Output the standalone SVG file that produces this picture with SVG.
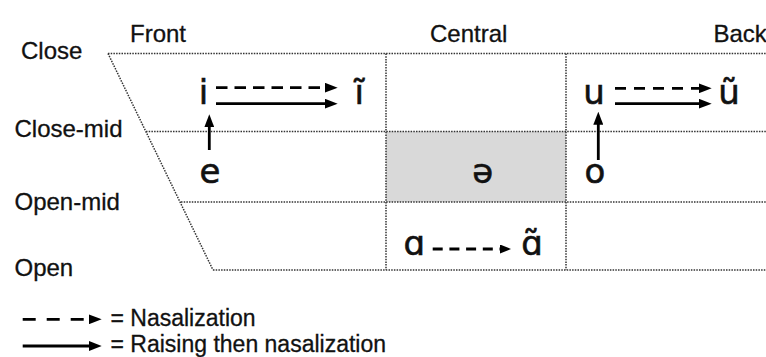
<svg xmlns="http://www.w3.org/2000/svg" width="766" height="357" viewBox="0 0 766 357">
  <style>
    .grid { stroke: #333; stroke-width: 1.5; stroke-dasharray: 1.5 1.2; fill: none; }
    .lbl { font-family: "Liberation Sans", Arial, sans-serif; font-size: 24px; fill: #111; stroke: #111; stroke-width: 0.3; }
    .leg { font-family: "Liberation Sans", Arial, sans-serif; font-size: 23px; fill: #111; stroke: #111; stroke-width: 0.3; }
    .v { font-family: "DejaVu Sans", "Noto Sans", sans-serif; font-size: 34px; fill: #111; stroke: #111; stroke-width: 0.6; text-anchor: middle; }
    .arr { stroke: #000; stroke-width: 2.8; fill: none; }
  </style>
  <defs>
    <marker id="head" markerUnits="userSpaceOnUse" viewBox="0 0 13 10" markerWidth="13" markerHeight="10" refX="4" refY="5" orient="auto">
      <path d="M0,0 L13,5 L0,10 z" fill="#000"/>
    </marker>
    <marker id="headS" markerUnits="userSpaceOnUse" viewBox="0 0 11 9" markerWidth="11" markerHeight="9" refX="3" refY="4.5" orient="auto">
      <path d="M0,0 L11,4.5 L0,9 z" fill="#000"/>
    </marker>
  </defs>
  <rect width="766" height="357" fill="#fff"/>

  <g id="chart">
    <rect x="386" y="131.5" width="180" height="70.5" fill="#d9d9d9"/>
    <line class="grid" x1="108" y1="53.5" x2="766" y2="53.5"/>
    <line class="grid" x1="146" y1="131.5" x2="766" y2="131.5"/>
    <line class="grid" x1="181" y1="202" x2="766" y2="202"/>
    <line class="grid" x1="213" y1="270" x2="766" y2="270"/>
    <line class="grid" x1="108" y1="53.5" x2="213" y2="270"/>
    <line class="grid" x1="386" y1="53.5" x2="386" y2="270"/>
    <line class="grid" x1="566" y1="53.5" x2="566" y2="270"/>
  </g>

  <g id="labels">
    <text class="lbl" x="21" y="59">Close</text>
    <text class="lbl" x="14.5" y="137">Close-mid</text>
    <text class="lbl" x="14.5" y="210">Open-mid</text>
    <text class="lbl" x="14.5" y="276">Open</text>
    <text class="lbl" x="130" y="42">Front</text>
    <text class="lbl" x="430" y="42">Central</text>
    <text class="lbl" x="713.5" y="42">Back</text>
  </g>

  <g id="node-i"><text class="v" x="203.5" y="104">i</text></g>
  <g id="node-i-nasal"><text class="v" x="359.3" y="104">ĩ</text></g>
  <g id="node-e"><text class="v" x="210" y="183">e</text></g>
  <g id="node-u"><text class="v" x="594" y="104">u</text></g>
  <g id="node-u-nasal"><text class="v" x="729" y="104">ũ</text></g>
  <g id="node-o"><text class="v" x="595" y="183">o</text></g>
  <g id="node-schwa"><text class="v" x="482.7" y="183">ə</text></g>
  <g id="node-a"><text class="v" x="414.3" y="255">ɑ</text></g>
  <g id="node-a-nasal"><text class="v" x="532" y="255">ɑ̃</text></g>

  <g id="connectors">
    <line class="arr" x1="216" y1="87.7" x2="328.7" y2="87.7" stroke-dasharray="11.5 7" marker-end="url(#head)"/>
    <line class="arr" x1="216" y1="103.7" x2="328.7" y2="103.7" marker-end="url(#head)"/>
    <line class="arr" x1="615" y1="88.3" x2="702.7" y2="88.3" stroke-dasharray="11 8" marker-end="url(#head)"/>
    <line class="arr" x1="615" y1="103.7" x2="702.7" y2="103.7" marker-end="url(#head)"/>
    <line class="arr" x1="209.3" y1="150" x2="209.3" y2="123.3" marker-end="url(#head)"/>
    <line class="arr" x1="598.3" y1="160" x2="598.3" y2="120.7" marker-end="url(#head)"/>
    <line class="arr" x1="432.7" y1="249" x2="503" y2="249" stroke-dasharray="10 6.7" marker-end="url(#headS)"/>
  </g>

  <g id="legend">
    <line class="arr" x1="22.7" y1="319.3" x2="92.7" y2="319.3" stroke-dasharray="13 11" marker-end="url(#head)"/>
    <line class="arr" x1="22.7" y1="346" x2="92.7" y2="346" marker-end="url(#head)"/>
    <text class="leg" x="110.5" y="326">= Nasalization</text>
    <text class="leg" x="110.5" y="351.5">= Raising then nasalization</text>
  </g>
</svg>
